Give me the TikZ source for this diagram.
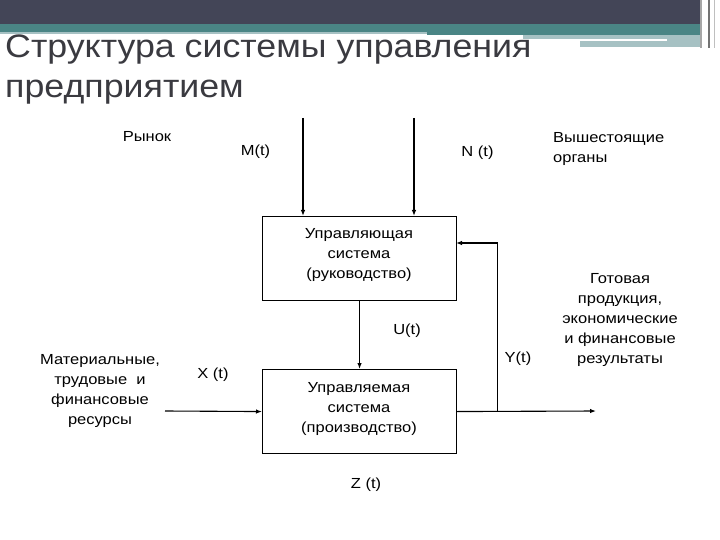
\documentclass[tikz,border=0pt]{standalone}
\usepackage{fontspec}
\setmainfont[FakeStretch=1.13]{Liberation Sans}
\newfontfamily\titlefont[FakeStretch=1.10]{Liberation Sans}
\usetikzlibrary{arrows.meta}
\definecolor{bandDark}{RGB}{67,69,87}
\definecolor{bandTeal}{RGB}{74,133,133}
\definecolor{bandLight}{RGB}{166,193,195}
\definecolor{titleGrey}{RGB}{58,58,64}
\begin{document}
\begin{tikzpicture}[x=1pt,y=-1pt,
  blk/.style={draw, line width=1.1pt, minimum width=194pt, minimum height=84pt, inner sep=0pt, anchor=north west},
  txt/.style={font=\fontsize{14.6}{20}\selectfont, inner sep=0pt, align=center},
  lbl/.style={font=\fontsize{14.6}{20}\selectfont, inner sep=0pt, anchor=base},
  arr/.style={line width=1.1pt, -{Latex[length=6pt,width=4.5pt]}},
  ln/.style={line width=1.1pt}]
\useasboundingbox (0,0) rectangle (720,540);
% banner
\fill[bandDark] (0,0) rectangle (700,24);
\fill[bandTeal] (0,24) rectangle (700,32);
\fill[bandTeal] (427,32) rectangle (700,35.5);
\fill[bandLight] (0,32) rectangle (427,34);
\fill[bandLight] (523,35.5) rectangle (700,47);
\fill[white] (523,39.5) rectangle (667,41.5);
\fill[white] (523,41.5) rectangle (580,47);
\draw[line width=2pt, black!35] (700.5,0) -- (700.5,48);
\draw[line width=1.3pt, black!55] (709,0) -- (709,48);
\draw[line width=1pt, black!25] (714,0) -- (714,48);
% title
\node[anchor=north west, inner sep=0pt, align=left, text=titleGrey,
  font=\titlefont\fontsize{32.5}{40}\selectfont] (title) at (5,29)
  {\strut Структура системы управления\\предприятием};
% boxes
\node[blk] (ctrl) at (262,216) {};
\node[blk] (prod) at (262,369) {};
\node[txt, anchor=north] (ctrltxt) at (359,224) {\strut Управляющая\\система\\(руководство)};
\node[txt, anchor=north] (prodtxt) at (359,378) {\strut Управляемая\\система\\(производство)};
% connectors
\coordinate (m0) at (303,118);
\coordinate (n0) at (414,118);
\draw[arr] (m0) -- (m0 |- ctrl.north);
\draw[arr] (n0) -- (n0 |- ctrl.north);
\draw[arr] (ctrl.south) -- (prod.north);
\coordinate (in0) at (165,411);
\draw[arr] (in0) -- (prod.west);
\coordinate (out0) at (596,411);
\draw[arr] (prod.east) -- (out0);
\coordinate (fb) at (497.5,411);
\coordinate (fbin) at (456,243);
\draw[arr] (fb) |- (fbin);
% labels
\node[lbl] (market) at (147,142) {Рынок};
\node[lbl] (mt) at (255.5,156) {M(t)};
\node[lbl] (nt) at (477.5,157) {N (t)};
\node[txt, anchor=north west, align=left] (organs) at (553,128.5) {\strut Вышестоящие\\органы};
\node[txt, anchor=north] (res) at (100,350) {\strut Материальные,\\трудовые~ и\\финансовые\\ресурсы};
\node[lbl] (xt) at (213,378) {X (t)};
\node[lbl] (ut) at (407,334) {U(t)};
\node[lbl] (yt) at (518,362) {Y(t)};
\node[txt, anchor=north] (out) at (620,269) {\strut Готовая\\продукция,\\экономические\\и финансовые\\результаты};
\node[lbl] (zt) at (366,488) {Z (t)};
\end{tikzpicture}
\end{document}
